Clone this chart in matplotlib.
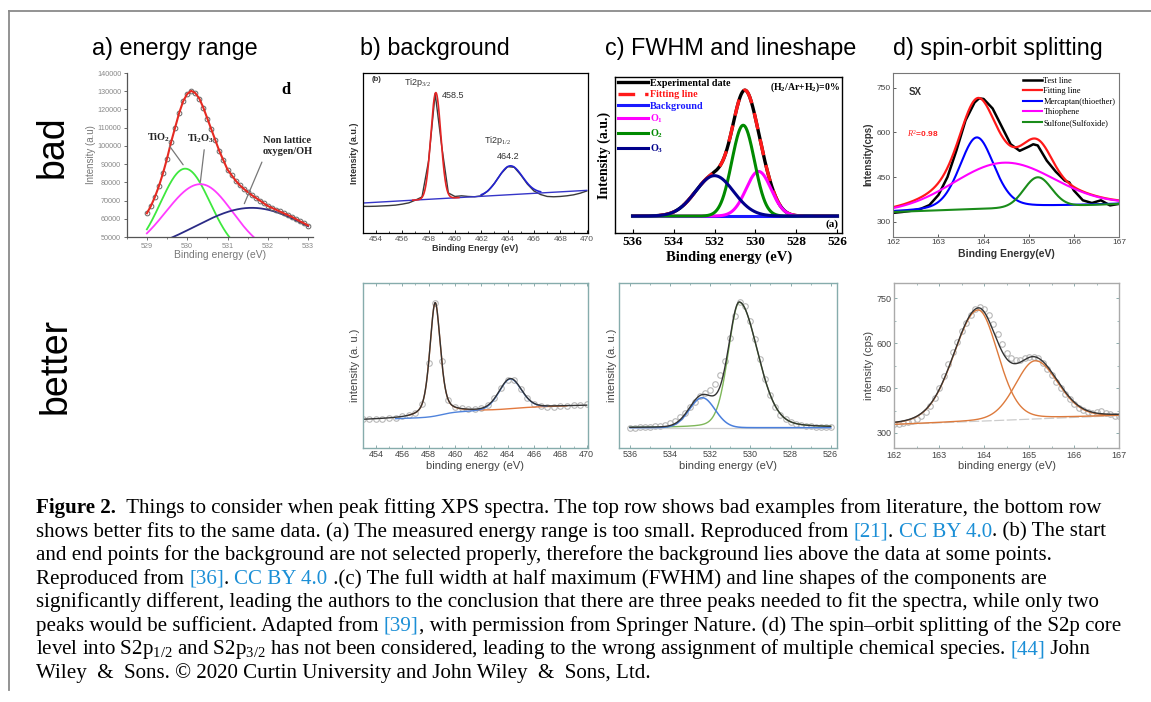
import numpy as np
import matplotlib.pyplot as plt
from matplotlib.lines import Line2D
from matplotlib.ticker import MultipleLocator

plt.rcParams['font.family'] = ['Liberation Sans', 'DejaVu Sans']
plt.rcParams['mathtext.fontset'] = 'custom'
plt.rcParams['mathtext.rm'] = 'Liberation Serif'
plt.rcParams['mathtext.it'] = 'Liberation Serif:italic'
plt.rcParams['mathtext.bf'] = 'Liberation Serif:bold'

SERIF = 'Liberation Serif'

# ---------------- a) energy range (bad only) ----------------
a_be = np.round(np.arange(529.0, 533.01, 0.1), 1)
a_counts = [63000, 67000, 72000, 78000, 85000, 93000, 102000, 110000, 118000, 124500,
            128500, 130200, 129000, 126000, 121000, 115000, 109000, 103000, 97000, 92000,
            87000, 84000, 81000, 78500, 76500, 74700, 73000, 71500, 70000, 68500,
            67000, 66000, 65000, 64000, 63000, 62000, 61000, 59800, 58600, 57500, 56300]
a_base = 40000
a_center = [529.95, 530.33, 531.6]
a_height = [47500, 39000, 26000]
a_hw_lo = [0.72, 1.02, 1.66]
a_hw_hi = [0.73, 0.94, 1.66]
a_colors = ['#3ee83e', '#ff3cff', '#2b2b86']

# ---------------- b) background ----------------
b_be = np.arange(453.0, 470.01, 0.5)
b_counts = [0.166, 0.166, 0.167, 0.169, 0.171, 0.174, 0.180, 0.188, 0.205, 0.225,
            0.45, 0.87, 0.54, 0.25, 0.228, 0.232, 0.228, 0.226, 0.232, 0.262,
            0.31, 0.37, 0.414, 0.41, 0.362, 0.305, 0.262, 0.240, 0.228, 0.226,
            0.228, 0.232, 0.238, 0.248, 0.262]
b_bg_be = [453.0, 470.0]
b_bg = [0.187, 0.266]
b_center = [458.55, 464.2]
b_height = [0.663, 0.18]
b_hw = [0.445, 1.08]
b_span = [(456.8, 460.3), (462.0, 466.5)]
b_colors = ['#e42424', '#2222d2']

# better fit: Shirley-like background steps + two pseudo-Voigt peaks
bb_be = np.arange(453.0, 470.01, 0.5)
bb_counts = [0.172, 0.173, 0.174, 0.176, 0.178, 0.180, 0.190, 0.198, 0.214, 0.265,
             0.514, 0.882, 0.530, 0.290, 0.250, 0.240, 0.237, 0.238, 0.244, 0.261,
             0.301, 0.361, 0.413, 0.410, 0.357, 0.304, 0.268, 0.255, 0.250, 0.250,
             0.252, 0.254, 0.257, 0.262, 0.268]
bb_bg0, bb_slope = 0.170, 0.0025
bb_step = [0.030, 0.015]
bb_step_at = [459.0, 464.3]
bb_step_w = [0.5, 0.8]
bb_center = [458.5, 464.2]
bb_height = [0.69, 0.183]
bb_hw = [0.48, 1.0]
bb_eta = [0.5, 0.15]
bb_span = [(456.5, 468.5), (455.5, 467.0)]
bb_colors = ['#e3793e', '#4f83dc']

# ---------------- c) FWHM and lineshape ----------------
c_bg = 0.11
c_names = ['O$_\\mathbf{1}$', 'O$_\\mathbf{2}$', 'O$_\\mathbf{3}$']
c_center = [529.85, 530.6, 532.0]
c_height = [0.285, 0.58, 0.258]
c_hw = [0.72, 0.65, 1.1]
c_colors = ['#ff00ff', '#008a00', '#00008b']

cc_be = np.arange(536.0, 525.99, -0.25)
cc_counts = [0.122, 0.122, 0.123, 0.124, 0.126, 0.129, 0.133, 0.140, 0.150, 0.165,
             0.185, 0.212, 0.245, 0.280, 0.312, 0.335, 0.352, 0.385, 0.440, 0.530,
             0.670, 0.800, 0.884, 0.860, 0.770, 0.660, 0.540, 0.420, 0.320, 0.245,
             0.200, 0.172, 0.157, 0.146, 0.139, 0.134, 0.131, 0.128, 0.126, 0.125, 0.124]
cc_bg = 0.122
cc_center = [530.55, 532.4]
cc_height = [0.762, 0.182]
cc_hw_lo = [1.08, 0.75]
cc_hw_hi = [0.65, 0.75]
cc_eta = [0.2, 0.0]
cc_colors = ['#7fb75a', '#4a7fdc']

# ---------------- d) spin-orbit splitting ----------------
d_test_be = [162.0, 162.2, 162.4, 162.6, 162.8, 163.0, 163.2, 163.4, 163.6, 163.8,
             163.9, 164.0, 164.2, 164.4, 164.6, 164.8, 165.0, 165.1, 165.2, 165.4,
             165.6, 165.8, 165.9, 166.0, 166.2, 166.4, 166.6, 166.8, 167.0]
d_test = [330, 333, 337, 343, 356, 390, 450, 540, 640, 700,
          714, 712, 680, 620, 560, 538, 552, 560, 556, 505,
          468, 438, 432, 405, 372, 363, 372, 355, 360]
d_bg_be = [162.0, 167.0]
d_bg = [333, 360]
d_names = ['Mercaptan(thioether)', 'Thiophene', 'Sulfone(Sulfoxide)']
d_center = [163.85, 164.45, 165.2]
d_height = [240, 152, 99]
d_hw = [0.45, 1.3, 0.36]
d_eta = [0.25, 0.0, 0.0]
d_colors = ['#0000ff', '#ff00ff', '#1a8c1a']

dd_be = np.round(np.arange(162.0, 167.01, 0.1), 1)
dd_counts = [329, 330, 332, 336, 340, 347, 356, 370, 390, 418,
             450, 490, 530, 570, 602, 640, 668, 695, 712, 719,
             712, 695, 665, 630, 598, 568, 550, 543, 545, 550,
             553, 555, 550, 535, 515, 493, 470, 450, 430, 412,
             398, 385, 376, 370, 367, 370, 372, 368, 362, 358, 357]
dd_bg_be = [162.0, 167.0]
dd_bg = [328, 358]
dd_center = [163.86, 165.13]
dd_height = [371, 194]
dd_hw_lo = [0.64, 0.52]
dd_hw_hi = [0.52, 0.60]
dd_eta = [0.15, 0.15]


def peak(x, c, h, hw_lo, hw_hi=None, eta=0.0):
    if hw_hi is None:
        hw_hi = hw_lo
    hw = np.where(x < c, hw_lo, hw_hi)
    u = (x - c) / hw
    return h * (eta / (1 + u ** 2) + (1 - eta) * np.exp(-np.log(2) * u ** 2))


W, H = 1151, 702
fig = plt.figure(figsize=(W / 100, H / 100), dpi=100)


def box(l, t, r, b):
    return fig.add_axes([l / W, 1 - b / H, (r - l) / W, (b - t) / H])


# frame of the figure page
fig.add_artist(Line2D([8.7 / W, 8.7 / W], [1 - 11 / H, 1 - 690 / H], transform=fig.transFigure,
                      color='#8a8a8a', lw=1.3))
fig.add_artist(Line2D([8.7 / W, 1.0], [1 - 11 / H, 1 - 11 / H], transform=fig.transFigure,
                      color='#8a8a8a', lw=1.3))

# row labels and column titles
fig.text(53 / W, 1 - 147 / H, 'bad', rotation=90, fontsize=27, ha='center', va='center')
fig.text(56 / W, 1 - 366 / H, 'better', rotation=90, fontsize=27, ha='center', va='center')
for x0, title in [(92, 'a) energy range'), (360, 'b) background'),
                  (605, 'c) FWHM and lineshape'), (893, 'd) spin-orbit splitting')]:
    fig.text(x0 / W, 1 - 49 / H, title, fontsize=16.8, ha='left', va='center')

# ---- a) top
ax = box(126.7, 73, 313, 237)
xa = np.linspace(529.0, 533.0, 500)
for i in range(3):
    ax.plot(xa, a_base + peak(xa, a_center[i], a_height[i], a_hw_lo[i], a_hw_hi[i]),
            color=a_colors[i], lw=1.3)
ax.plot(a_be, a_counts, 'o', mfc='none', mec='#666666', ms=3.4, mew=0.7)
ax.plot(a_be, a_counts, color='#e52a22', lw=1.5)
ax.set_xlim(528.5, 533.12)
ax.set_ylim(50000, 140000)
ax.set_yticks(range(50000, 140001, 10000))
ax.set_xticks(range(529, 534))
ax.xaxis.set_minor_locator(MultipleLocator(0.5))
ax.spines[['top', 'right']].set_visible(False)
for s in ['left', 'bottom']:
    ax.spines[s].set_color('#555555')
    ax.spines[s].set_linewidth(0.9)
ax.tick_params(direction='out', length=2.5, width=0.6, colors='#555555',
               labelcolor='#888888', labelsize=5.2, pad=1.5)
ax.tick_params(which='minor', length=1.5, width=0.5, colors='#555555')
ax.set_ylabel('Intensity (a.u)', fontsize=7, color='#777777', labelpad=1)
ax.set_xlabel('Binding energy (eV)', fontsize=7.5, color='#777777', labelpad=0)
lab = dict(fontsize=7.5, fontweight='bold', family=SERIF, color='#222222')
ax.text(529.0, 104500, 'TiO$_\\mathbf{2}$', ha='left', va='center', **lab)
ax.text(530.0, 104000, 'Ti$_\\mathbf{2}$O$_\\mathbf{3}$', ha='left', va='center', **lab)
ax.text(532.48, 100000, 'Non lattice\noxygen/OH', ha='center', va='center',
        linespacing=1.2, **lab)
ax.text(532.46, 130500, 'd', fontsize=12, fontweight='bold', family=SERIF, ha='center', va='center')
for start, end in [((529.52, 101200), (529.94, 88400)), ((530.43, 99400), (530.32, 78900)),
                   ((531.88, 92500), (531.39, 66900))]:
    ax.annotate('', xy=end, xytext=start, arrowprops=dict(arrowstyle='-', color='#777777', lw=0.9))

# ---- b) top
ax = box(362.7, 72.7, 588, 233)
ax.plot(b_be, b_counts, color='#3a3a3a', lw=1.0)
ax.plot(b_bg_be, b_bg, color='#3535c8', lw=1.0)
for i in range(2):
    xb = np.linspace(b_span[i][0], b_span[i][1], 300)
    ax.plot(xb, np.interp(xb, b_bg_be, b_bg) + peak(xb, b_center[i], b_height[i], b_hw[i]),
            color=b_colors[i], lw=1.2)
ax.set_xlim(453, 470.1)
ax.set_ylim(0, 1)
ax.set_xticks(range(454, 471, 2))
ax.xaxis.set_minor_locator(MultipleLocator(1))
ax.set_yticks([])
ax.tick_params(direction='in', length=2.5, width=0.6, labelsize=6, labelcolor='#555555', pad=2)
ax.tick_params(which='minor', direction='in', length=1.5, width=0.5)
for s in ax.spines.values():
    s.set_linewidth(0.9)
ax.set_xlabel('Binding Energy (eV)', fontsize=6.5, fontweight='bold', color='#333333', labelpad=1)
ax.set_ylabel('Intensity (a.u.)', fontsize=6.5, fontweight='bold', color='#333333', labelpad=3)
ax.text(453.7, 0.955, '(b)', fontsize=5.5, fontweight='bold', color='#333333', va='center')
ax.text(456.1, 0.94, 'Ti2p$_{3/2}$', fontsize=6.5, color='#333333', va='center')
ax.text(459.0, 0.86, '458.5', fontsize=6.5, color='#333333', va='center')
ax.text(462.2, 0.575, 'Ti2p$_{1/2}$', fontsize=6.5, color='#333333', va='center')
ax.text(463.2, 0.48, '464.2', fontsize=6.5, color='#333333', va='center')

# ---- b) bottom
ax = box(362.7, 283.3, 588, 447.7)
xb = np.linspace(453.0, 470.0, 700)
bgb = bb_bg0 + bb_slope * (xb - 453.0)
for k in range(2):
    bgb = bgb + bb_step[k] / (1 + np.exp(-(xb - bb_step_at[k]) / bb_step_w[k]))
comps = [peak(xb, bb_center[k], bb_height[k], bb_hw[k], eta=bb_eta[k]) for k in range(2)]
ax.plot(bb_be, bb_counts, 'o', mfc='none', mec='#b8b8b8', ms=4, mew=0.8)
for k in range(2):
    m = (xb >= bb_span[k][0]) & (xb <= bb_span[k][1])
    ax.plot(xb[m], (bgb + comps[k])[m], color=bb_colors[k], lw=1.0)
ax.plot(xb, bgb + comps[0] + comps[1], color='#333333', lw=1.0)
ax.set_xlim(453, 470.1)
ax.set_ylim(0, 1)

# ---- c) top
ax = box(615, 76.7, 842.3, 233.3)
xc = np.linspace(536.0, 526.0, 600)
parts = [c_bg + peak(xc, c_center[i], c_height[i], c_hw[i]) for i in range(3)]
total = c_bg + sum(p - c_bg for p in parts)
h_exp, = ax.plot(xc, total, color='black', lw=2.4, label='Experimental date')
h_fit, = ax.plot(xc, total, color='#ff1a1a', lw=2.4, dashes=(5, 3), label='Fitting line')
h_bg, = ax.plot(xc, np.full_like(xc, c_bg), color='#1a1aff', lw=2.2, label='Background')
hs = [h_exp, h_fit, h_bg]
for i in range(3):
    h, = ax.plot(xc, parts[i], color=c_colors[i], lw=2.2, label=c_names[i])
    hs.append(h)
ax.set_xlim(536.86, 525.76)
ax.set_ylim(0, 1)
ticks = list(range(536, 525, -2))
ax.set_xticks(ticks)
ax.set_xticklabels([str(t) for t in ticks], fontfamily=SERIF, fontweight='bold', fontsize=9.5)
ax.set_yticks([])
ax.tick_params(direction='in', length=3, width=0.8, pad=2)
for s in ax.spines.values():
    s.set_linewidth(1.0)
ax.set_xlabel('Binding energy (eV)', fontsize=10.5, fontweight='bold', family=SERIF, labelpad=2)
ax.set_ylabel('Intensity (a.u.)', fontsize=10, fontweight='bold', family=SERIF, labelpad=3)
ax.legend(handles=hs, loc='upper left', bbox_to_anchor=(-0.015, 1.025), frameon=False,
          handlelength=3.0, handletextpad=0.15, labelspacing=0.22, borderaxespad=0.2,
          labelcolor='linecolor', prop=dict(family=SERIF, weight='bold', size=7.3))
ax.text(0.99, 0.975, '(H$_\\mathbf{2}$/Ar+H$_\\mathbf{2}$)=0%', transform=ax.transAxes,
        ha='right', va='top', fontsize=7, fontweight='bold', family=SERIF)
ax.text(0.985, 0.03, '(a)', transform=ax.transAxes, ha='right', va='bottom',
        fontsize=8, fontweight='bold', family=SERIF)

# ---- c) bottom
ax = box(619.3, 283.3, 836.7, 447.7)
xc = np.linspace(536.0, 526.0, 600)
comps = [peak(xc, cc_center[k], cc_height[k], cc_hw_lo[k], cc_hw_hi[k], cc_eta[k]) for k in range(2)]
ax.plot(cc_be, cc_counts, 'o', mfc='none', mec='#b8b8b8', ms=4, mew=0.8)
ax.plot(xc, np.full_like(xc, cc_bg), color='#cfcfcf', lw=0.9)
ax.plot(xc, cc_bg + comps[0], color=cc_colors[0], lw=1.0)
ax.plot(xc, cc_bg + comps[1], color=cc_colors[1], lw=1.1)
ax.plot(xc, cc_bg + comps[0] + comps[1], color='#333333', lw=1.0)
ax.set_xlim(536.53, 525.7)
ax.set_ylim(0, 1)
ax.set_xticks(range(536, 525, -2))
ax.xaxis.set_minor_locator(MultipleLocator(1))

# ---- d) top
ax = box(893.3, 72.7, 1119, 236.7)
xd = np.linspace(162.0, 167.0, 600)
bgd = np.interp(xd, d_bg_be, d_bg)
dparts = [peak(xd, d_center[i], d_height[i], d_hw[i], eta=d_eta[i]) for i in range(3)]
h_test, = ax.plot(d_test_be, d_test, color='black', lw=1.8, label='Test line')
h_fit, = ax.plot(xd, bgd + sum(dparts), color='#ff1a1a', lw=1.6, label='Fitting line')
hs = [h_test, h_fit]
for i in range(3):
    h, = ax.plot(xd, bgd + dparts[i], color=d_colors[i], lw=1.5, label=d_names[i])
    hs.append(h)
ax.set_xlim(162, 167)
ax.set_ylim(250, 800)
ax.set_yticks([300, 450, 600, 750])
ax.set_xticks(range(162, 168))
ax.tick_params(direction='in', length=2, width=0.6, labelsize=6, pad=2, colors='#444444')
for s in ax.spines.values():
    s.set_color('#777777')
    s.set_linewidth(0.8)
ax.set_ylabel('Intensity(cps)', fontsize=7, fontweight='bold', color='#333333', labelpad=2)
ax.set_xlabel('Binding Energy(eV)', fontsize=7.5, fontweight='bold', color='#333333', labelpad=2)
ax.legend(handles=hs, loc='upper right', bbox_to_anchor=(1.01, 1.01), frameon=False,
          handlelength=2.3, handletextpad=0.2, labelspacing=0.3, borderaxespad=0.3,
          prop=dict(family=SERIF, size=6))
ax.text(162.35, 735, 'SX', fontsize=7, fontweight='bold', color='#333333', va='center')
ax.text(162.3, 595, '$R^2$=0.98', fontsize=6, fontweight='bold', color='#ff2020', va='center')

# ---- d) bottom
ax = box(894.3, 283, 1119.3, 448)
bgd = np.interp(xd, dd_bg_be, dd_bg)
comps = [peak(xd, dd_center[k], dd_height[k], dd_hw_lo[k], dd_hw_hi[k], dd_eta[k]) for k in range(2)]
ax.plot(dd_be, dd_counts, 'o', mfc='none', mec='#b8b8b8', ms=4, mew=0.8)
ax.plot(dd_bg_be, dd_bg, color='#cccccc', lw=0.9, dashes=(8, 2))
for k in range(2):
    ax.plot(xd, bgd + comps[k], color='#dd7a3c', lw=1.0)
ax.plot(xd, bgd + comps[0] + comps[1], color='#333333', lw=1.0)
ax.set_xlim(162, 167)
ax.set_ylim(250, 800)
ax.set_yticks([300, 450, 600, 750])
ax.yaxis.set_minor_locator(MultipleLocator(75))
ax.set_xticks(range(162, 168))
ax.xaxis.set_minor_locator(MultipleLocator(0.5))

# shared look of the "better" row
for ax, ylab in [(fig.axes[2], 'intensity (a. u.)'), (fig.axes[4], 'intensity (a. u.)'),
                 (fig.axes[6], 'intensity (cps)')]:
    if ax is not fig.axes[6]:
        ax.set_yticks([])
    ax.tick_params(which='both', direction='in', top=True, right=(ax is fig.axes[6]),
                   colors='#7a9f9f', labelcolor='#444444', labelsize=6.5, pad=2)
    ax.tick_params(which='major', length=2.5, width=0.6)
    ax.tick_params(which='minor', length=1.5, width=0.5)
    for s in ax.spines.values():
        s.set_color('#86acac' if ax is not fig.axes[6] else '#aaaaaa')
        s.set_linewidth(1.0)
    ax.set_xlabel('binding energy (eV)', fontsize=8, color='#444444', labelpad=1)
    ax.set_ylabel(ylab, fontsize=8, color='#444444', labelpad=2)
fig.axes[2].set_xticks(range(454, 471, 2))
fig.axes[2].xaxis.set_minor_locator(MultipleLocator(1))

# ---------------- caption ----------------
BLUE = '#1b8fd6'
cap = [
    [('Figure 2.', 'k', 'bold'), ('  Things to consider when peak fitting XPS spectra. The top row shows bad '
                                  'examples from literature, the bottom row', 'k', 'normal')],
    [('shows better fits to the same data. (a) The measured energy range is too small. Reproduced from ',
      'k', 'normal'), ('[21]', BLUE, 'normal'), ('. ', 'k', 'normal'), ('CC BY 4.0', BLUE, 'normal'),
     ('. (b) The start', 'k', 'normal')],
    [('and end points for the background are not selected properly, therefore the background lies above '
      'the data at some points.', 'k', 'normal')],
    [('Reproduced from ', 'k', 'normal'), ('[36]', BLUE, 'normal'), ('. ', 'k', 'normal'),
     ('CC BY 4.0', BLUE, 'normal'),
     (' .(c) The full width at half maximum (FWHM) and line shapes of the components are', 'k', 'normal')],
    [('significantly different, leading the authors to the conclusion that there are three peaks needed '
      'to fit the spectra, while only two', 'k', 'normal')],
    [('peaks would be sufficient. Adapted from ', 'k', 'normal'), ('[39]', BLUE, 'normal'),
     (', with permission from Springer Nature. (d) The spin\u2013orbit splitting of the S2p core', 'k', 'normal')],
    [('level into S2p$_{1/2}$ and S2p$_{3/2}$ has not been considered, leading to the wrong assignment of '
      'multiple chemical species. ', 'k', 'normal'), ('[44]', BLUE, 'normal'), (' John', 'k', 'normal')],
    [('Wiley  &  Sons. \u00a9 2020 Curtin University and John Wiley  &  Sons, Ltd.', 'k', 'normal')],
]
cap_size = 15.1
renderer = fig.canvas.get_renderer()


def width_px(s, weight):
    t = fig.text(0, 0, s, fontsize=cap_size, family=SERIF, fontweight=weight)
    w = t.get_window_extent(renderer).width
    t.remove()
    return w


bar = width_px('|', 'normal')
for n, line in enumerate(cap):
    x = 36.0
    y = 513 + n * 23.57
    for s, col, wt in line:
        fig.text(x / W, 1 - y / H, s, fontsize=cap_size, family=SERIF, fontweight=wt,
                 color=col, ha='left', va='baseline')
        x += width_px(s + '|', wt) - bar

fig.savefig('out.png', dpi=100)
